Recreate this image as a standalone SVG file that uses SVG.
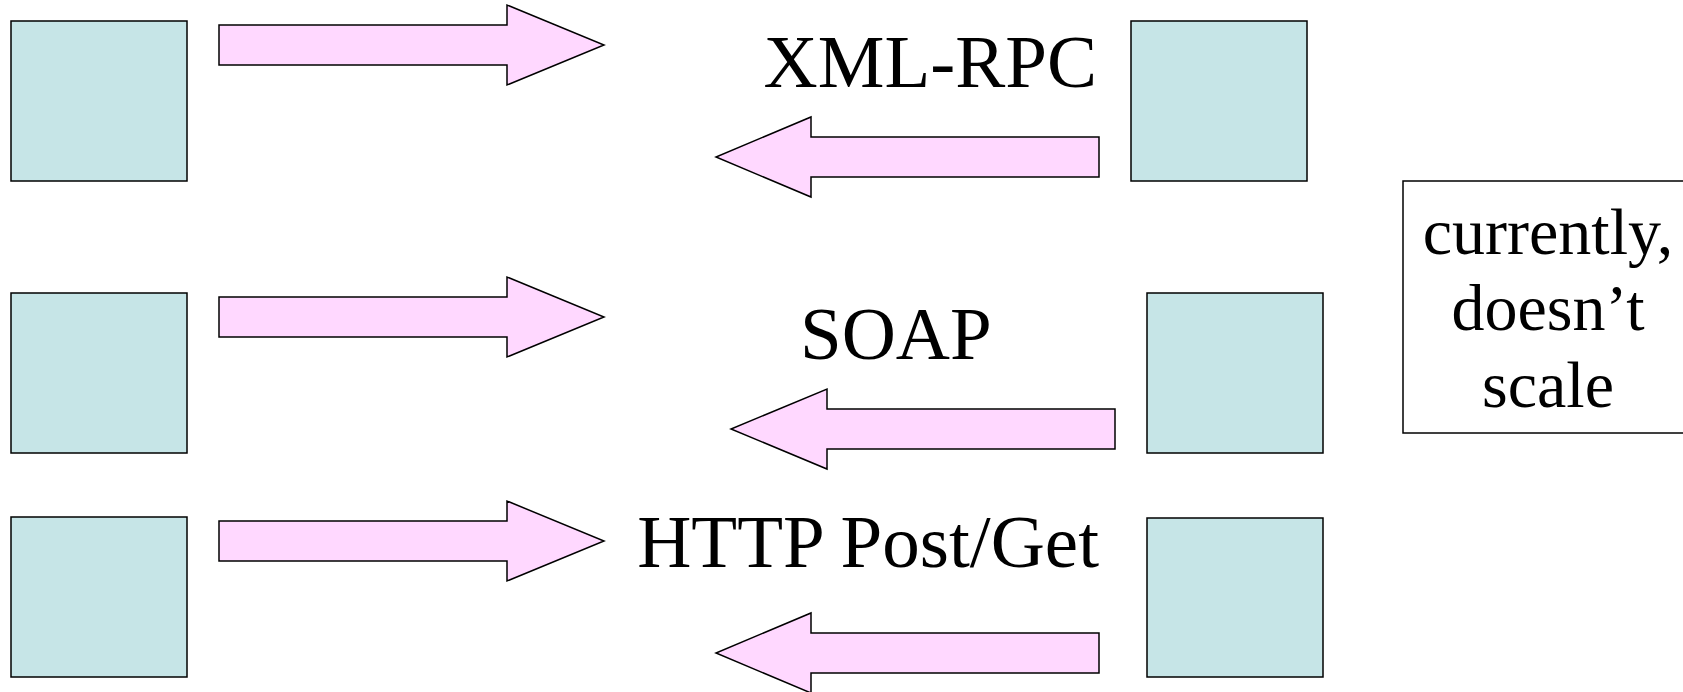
<svg xmlns="http://www.w3.org/2000/svg" width="1683" height="692" viewBox="0 0 1683 692">
<style>
.box{fill:#C6E5E7;stroke:#000;stroke-width:1.5}
.arr{fill:#FFD8FF;stroke:#000;stroke-width:1.5;stroke-linejoin:miter}
.lbl{font-family:"Liberation Serif","Times New Roman",serif;font-size:75px;fill:#000}
.note{font-family:"Liberation Serif","Times New Roman",serif;font-size:66px;fill:#000;text-anchor:middle}
</style>
<rect width="1683" height="692" fill="#fff"/>
<g id="client1"><rect class="box" x="11" y="21" width="176" height="160"/></g>
<g id="client2"><rect class="box" x="11" y="293" width="176" height="160"/></g>
<g id="client3"><rect class="box" x="11" y="517" width="176" height="160"/></g>
<g id="server1"><rect class="box" x="1131" y="21" width="176" height="160"/></g>
<g id="server2"><rect class="box" x="1147" y="293" width="176" height="160"/></g>
<g id="server3"><rect class="box" x="1147" y="518" width="176" height="159"/></g>
<g id="connectors">
<polygon class="arr" points="219,25 507,25 507,5 604,45 507,85 507,65 219,65"/>
<polygon class="arr" points="219,297 507,297 507,277 604,317 507,357 507,337 219,337"/>
<polygon class="arr" points="219,521 507,521 507,501 604,541 507,581 507,561 219,561"/>
<polygon class="arr" points="1099,137 811,137 811,117 716,157 811,197 811,177 1099,177"/>
<polygon class="arr" points="1115,409 827,409 827,389 731,429 827,469 827,449 1115,449"/>
<polygon class="arr" points="1099,633 811,633 811,613 716,653 811,693 811,673 1099,673"/>
</g>
<g id="label-xmlrpc"><text class="lbl" x="1097" y="87" text-anchor="end">XML-RPC</text></g>
<g id="label-soap"><text class="lbl" x="800" y="359">SOAP</text></g>
<g id="label-http"><text class="lbl" x="1099" y="567" text-anchor="end">HTTP Post/Get</text></g>
<g id="note">
<rect x="1403" y="181" width="300" height="252" fill="#fff" stroke="#000" stroke-width="1.5"/>
<text class="note" x="1548" y="254">currently,</text>
<text class="note" x="1548" y="330">doesn’t</text>
<text class="note" x="1548" y="407">scale</text>
</g>
</svg>
